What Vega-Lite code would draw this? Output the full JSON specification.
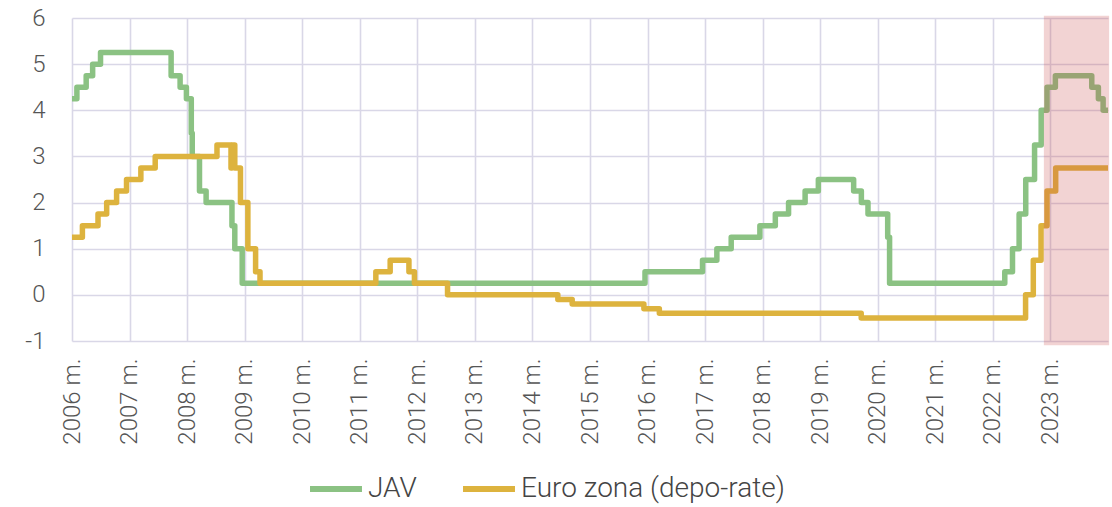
{
  "$schema": "https://vega.github.io/schema/vega-lite/v6.json",
  "width": 1036,
  "height": 323,
  "autosize": {"type": "none"},
  "padding": {"left": 72, "top": 18, "right": 4, "bottom": 166},
  "background": "white",
  "config": {
    "view": {"stroke": null},
    "font": "Roboto",
    "axis": {"labelFont": "Roboto", "labelFontWeight": 300, "labelColor": "#555555", "gridColor": "#D9D7E7", "gridWidth": 1.6, "domain": false, "ticks": false, "title": null},
    "legend": {"labelFont": "Roboto", "labelFontWeight": 300, "labelColor": "#444444"}
  },
  "datasets": {
    "rates": [
      {"series": "JAV", "date": "2006-01-01", "rate": 4.25},
      {"series": "JAV", "date": "2006-02-01", "rate": 4.5},
      {"series": "JAV", "date": "2006-04-01", "rate": 4.75},
      {"series": "JAV", "date": "2006-05-12", "rate": 5.0},
      {"series": "JAV", "date": "2006-07-01", "rate": 5.25},
      {"series": "JAV", "date": "2007-09-22", "rate": 4.75},
      {"series": "JAV", "date": "2007-11-18", "rate": 4.5},
      {"series": "JAV", "date": "2007-12-28", "rate": 4.25},
      {"series": "JAV", "date": "2008-01-28", "rate": 3.5},
      {"series": "JAV", "date": "2008-02-03", "rate": 3.0},
      {"series": "JAV", "date": "2008-03-20", "rate": 2.25},
      {"series": "JAV", "date": "2008-05-01", "rate": 2.0},
      {"series": "JAV", "date": "2008-10-12", "rate": 1.5},
      {"series": "JAV", "date": "2008-10-30", "rate": 1.0},
      {"series": "JAV", "date": "2008-12-16", "rate": 0.25},
      {"series": "JAV", "date": "2015-12-16", "rate": 0.5},
      {"series": "JAV", "date": "2016-12-15", "rate": 0.75},
      {"series": "JAV", "date": "2017-03-16", "rate": 1.0},
      {"series": "JAV", "date": "2017-06-15", "rate": 1.25},
      {"series": "JAV", "date": "2017-12-14", "rate": 1.5},
      {"series": "JAV", "date": "2018-03-22", "rate": 1.75},
      {"series": "JAV", "date": "2018-06-14", "rate": 2.0},
      {"series": "JAV", "date": "2018-09-27", "rate": 2.25},
      {"series": "JAV", "date": "2018-12-20", "rate": 2.5},
      {"series": "JAV", "date": "2019-08-01", "rate": 2.25},
      {"series": "JAV", "date": "2019-09-19", "rate": 2.0},
      {"series": "JAV", "date": "2019-10-31", "rate": 1.75},
      {"series": "JAV", "date": "2020-03-04", "rate": 1.25},
      {"series": "JAV", "date": "2020-03-16", "rate": 0.25},
      {"series": "JAV", "date": "2022-03-17", "rate": 0.5},
      {"series": "JAV", "date": "2022-05-05", "rate": 1.0},
      {"series": "JAV", "date": "2022-06-16", "rate": 1.75},
      {"series": "JAV", "date": "2022-07-28", "rate": 2.5},
      {"series": "JAV", "date": "2022-09-22", "rate": 3.25},
      {"series": "JAV", "date": "2022-11-03", "rate": 4.0},
      {"series": "JAV", "date": "2022-12-10", "rate": 4.5},
      {"series": "JAV", "date": "2023-02-01", "rate": 4.75},
      {"series": "JAV", "date": "2023-09-20", "rate": 4.5},
      {"series": "JAV", "date": "2023-11-01", "rate": 4.25},
      {"series": "JAV", "date": "2023-12-01", "rate": 4.0},
      {"series": "JAV", "date": "2024-01-01", "rate": 4.0},
      {"series": "Euro zona (depo-rate)", "date": "2006-01-01", "rate": 1.25},
      {"series": "Euro zona (depo-rate)", "date": "2006-03-08", "rate": 1.5},
      {"series": "Euro zona (depo-rate)", "date": "2006-06-15", "rate": 1.75},
      {"series": "Euro zona (depo-rate)", "date": "2006-08-09", "rate": 2.0},
      {"series": "Euro zona (depo-rate)", "date": "2006-10-11", "rate": 2.25},
      {"series": "Euro zona (depo-rate)", "date": "2006-12-13", "rate": 2.5},
      {"series": "Euro zona (depo-rate)", "date": "2007-03-14", "rate": 2.75},
      {"series": "Euro zona (depo-rate)", "date": "2007-06-13", "rate": 3.0},
      {"series": "Euro zona (depo-rate)", "date": "2008-07-09", "rate": 3.25},
      {"series": "Euro zona (depo-rate)", "date": "2008-10-06", "rate": 2.75},
      {"series": "Euro zona (depo-rate)", "date": "2008-10-12", "rate": 3.25},
      {"series": "Euro zona (depo-rate)", "date": "2008-10-30", "rate": 2.75},
      {"series": "Euro zona (depo-rate)", "date": "2008-12-05", "rate": 2.0},
      {"series": "Euro zona (depo-rate)", "date": "2009-01-21", "rate": 1.0},
      {"series": "Euro zona (depo-rate)", "date": "2009-03-11", "rate": 0.5},
      {"series": "Euro zona (depo-rate)", "date": "2009-04-08", "rate": 0.25},
      {"series": "Euro zona (depo-rate)", "date": "2011-04-13", "rate": 0.5},
      {"series": "Euro zona (depo-rate)", "date": "2011-07-13", "rate": 0.75},
      {"series": "Euro zona (depo-rate)", "date": "2011-11-09", "rate": 0.5},
      {"series": "Euro zona (depo-rate)", "date": "2011-12-14", "rate": 0.25},
      {"series": "Euro zona (depo-rate)", "date": "2012-07-11", "rate": 0.0},
      {"series": "Euro zona (depo-rate)", "date": "2014-06-11", "rate": -0.1},
      {"series": "Euro zona (depo-rate)", "date": "2014-09-10", "rate": -0.2},
      {"series": "Euro zona (depo-rate)", "date": "2015-12-09", "rate": -0.3},
      {"series": "Euro zona (depo-rate)", "date": "2016-03-16", "rate": -0.4},
      {"series": "Euro zona (depo-rate)", "date": "2019-09-18", "rate": -0.5},
      {"series": "Euro zona (depo-rate)", "date": "2022-07-27", "rate": 0.0},
      {"series": "Euro zona (depo-rate)", "date": "2022-09-14", "rate": 0.75},
      {"series": "Euro zona (depo-rate)", "date": "2022-11-02", "rate": 1.5},
      {"series": "Euro zona (depo-rate)", "date": "2022-12-10", "rate": 2.25},
      {"series": "Euro zona (depo-rate)", "date": "2023-02-03", "rate": 2.75},
      {"series": "Euro zona (depo-rate)", "date": "2024-01-01", "rate": 2.75}
    ],
    "band": [
      {"start": "2022-11-20", "end": "2024-01-08", "low": -1.09, "high": 6.05}
    ]
  },
  "layer": [
    {
      "data": {"name": "rates"},
      "mark": {"type": "line", "interpolate": "step-after", "strokeWidth": 5.5, "strokeJoin": "round", "strokeCap": "butt", "clip": false},
      "encoding": {
        "x": {
          "field": "date", "type": "temporal",
          "scale": {"domain": [{"year": 2006, "month": 1, "date": 1}, {"year": 2024, "month": 1, "date": 1}]},
          "axis": {
            "values": [
              {"year": 2006, "month": 1, "date": 1}, {"year": 2007, "month": 1, "date": 1}, {"year": 2008, "month": 1, "date": 1},
              {"year": 2009, "month": 1, "date": 1}, {"year": 2010, "month": 1, "date": 1}, {"year": 2011, "month": 1, "date": 1},
              {"year": 2012, "month": 1, "date": 1}, {"year": 2013, "month": 1, "date": 1}, {"year": 2014, "month": 1, "date": 1},
              {"year": 2015, "month": 1, "date": 1}, {"year": 2016, "month": 1, "date": 1}, {"year": 2017, "month": 1, "date": 1},
              {"year": 2018, "month": 1, "date": 1}, {"year": 2019, "month": 1, "date": 1}, {"year": 2020, "month": 1, "date": 1},
              {"year": 2021, "month": 1, "date": 1}, {"year": 2022, "month": 1, "date": 1}, {"year": 2023, "month": 1, "date": 1}
            ],
            "labelExpr": "timeFormat(datum.value, '%Y') + ' m.'",
            "labelAngle": 270,
            "labelAlign": "right",
            "labelBaseline": "middle",
            "labelFontSize": 24,
            "labelPadding": 17,
            "labelOverlap": false,
            "labelBound": false,
            "labelFlush": false
          }
        },
        "y": {
          "field": "rate", "type": "quantitative",
          "scale": {"domain": [-1, 6], "nice": false, "zero": false},
          "axis": {"values": [-1, 0, 1, 2, 3, 4, 5, 6], "labelFontSize": 24, "labelPadding": 27, "labelExpr": "datum.value < 0 ? '-' + abs(datum.value) : '' + datum.value"}
        },
        "color": {
          "field": "series", "type": "nominal",
          "scale": {"domain": ["JAV", "Euro zona (depo-rate)"], "range": ["#8BC283", "#DDB33E"]},
          "legend": {
            "title": null,
            "orient": "none",
            "direction": "horizontal",
            "legendX": 235,
            "legendY": 442,
            "symbolType": "stroke",
            "symbolSize": 2700,
            "symbolStrokeWidth": 6,
            "labelFontSize": 28,
            "labelLimit": 500,
            "labelOffset": 3,
            "columnPadding": 34
          }
        },
        "detail": {"field": "series"}
      }
    },
    {
      "data": {"name": "band"},
      "mark": {"type": "rect", "color": "#C94848", "opacity": 0.24, "clip": false},
      "encoding": {
        "x": {"field": "start", "type": "temporal"},
        "x2": {"field": "end"},
        "y": {"field": "low", "type": "quantitative"},
        "y2": {"field": "high"}
      }
    }
  ]
}
